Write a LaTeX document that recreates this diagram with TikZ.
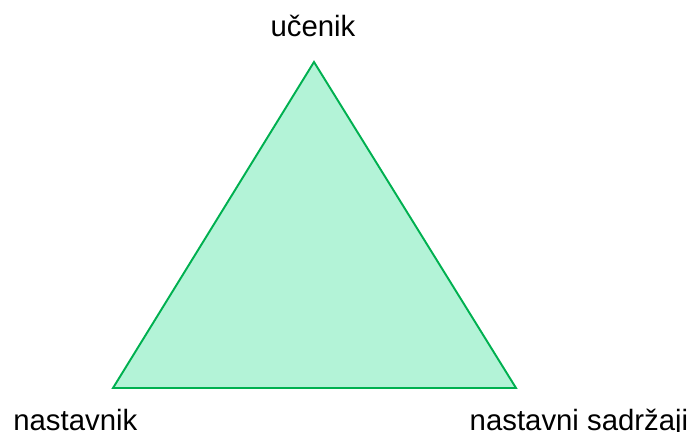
\documentclass[tikz,border=0pt]{standalone}
\usepackage{fontspec}
\setmainfont{Liberation Sans}
\definecolor{trokutrub}{HTML}{00B050}
\definecolor{trokutpun}{HTML}{B3F3D7}
\tikzset{
  oznaka/.style={anchor=base, inner sep=0pt, font=\fontsize{16.7}{20}\selectfont}
}
\begin{document}
\begin{tikzpicture}[x=0.02cm, y=0.02cm]
    \useasboundingbox (0,0) rectangle (692,432);

    % Vrhovi trokuta
    \coordinate (vrh) at (314,370);
    \coordinate (lijevo) at (113,44);
    \coordinate (desno) at (516,44);

    % Trokut
    \draw[trokutrub, fill=trokutpun, line width=1.1pt, line join=miter]
      (vrh) -- (lijevo) -- (desno) -- cycle;

    % Oznake
    \node[oznaka] (ucenik) at (313,395.3) {učenik};
    \node[oznaka, anchor=base west] (nastavnik) at (13,1.5) {nastavnik};
    \node[oznaka] (sadrzaji) at (579,1.5) {nastavni sadržaji};
  \end{tikzpicture}
\end{document}
